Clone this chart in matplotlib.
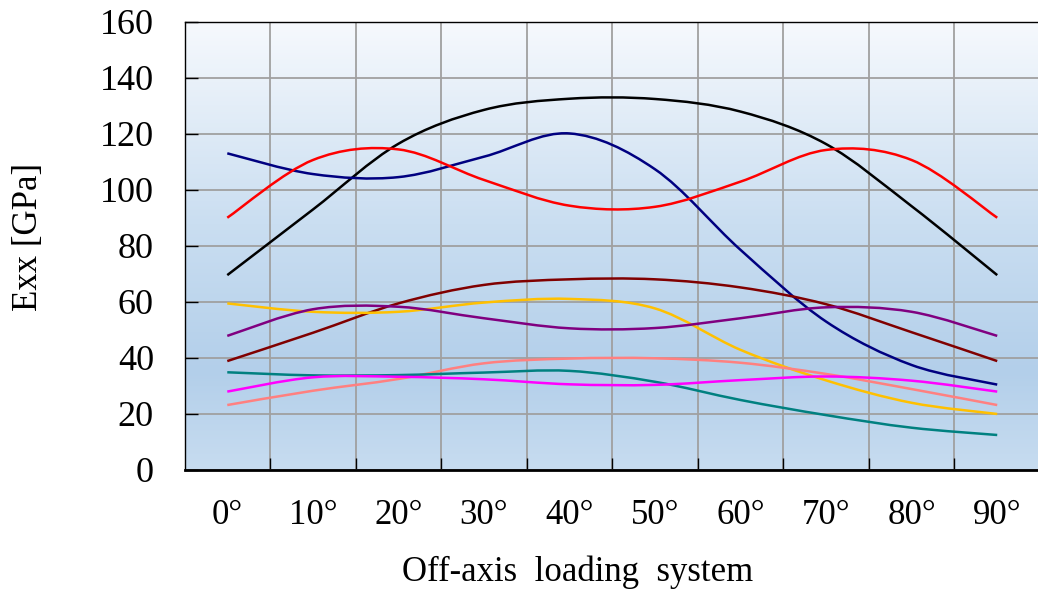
import numpy as np
import matplotlib.pyplot as plt
from matplotlib.path import Path
from matplotlib.patches import PathPatch
from matplotlib.colors import LinearSegmentedColormap

# categories on the x axis
angles = ['0°', '10°', '20°', '30°', '40°', '50°', '60°', '70°', '80°', '90°']

# Exx values [GPa], one list per curve
black_vals = [69.6, 93.0, 116.5, 128.6, 132.6, 132.5, 128.0, 116.4, 94.2, 69.6]
navy_vals = [113.1, 105.7, 104.6, 111.9, 120.2, 107.4, 78.6, 53.0, 37.5, 30.5]
red_vals = [90.1, 110.7, 114.5, 103.6, 94.4, 94.0, 103.0, 114.3, 110.7, 90.1]
maroon_vals = [38.9, 49.0, 59.5, 66.1, 68.1, 68.1, 65.2, 59.2, 49.2, 38.9]
orange_vals = [59.5, 56.5, 56.5, 59.8, 61.1, 57.7, 42.9, 32.0, 24.0, 20.0]
purple_vals = [47.9, 57.4, 58.3, 54.2, 50.6, 50.7, 54.2, 58.1, 56.5, 47.9]
salmon_vals = [23.2, 28.3, 32.5, 38.1, 39.8, 39.9, 38.3, 34.3, 28.9, 23.2]
teal_vals = [34.9, 33.8, 33.9, 34.8, 35.4, 31.5, 25.0, 19.6, 15.1, 12.5]
magenta_vals = [28.0, 33.1, 33.3, 32.4, 30.6, 30.4, 32.1, 33.4, 31.9, 28.0]

y_ticks = [0, 20, 40, 60, 80, 100, 120, 140, 160]


# smoothed line like a spreadsheet chart: cubic bezier through each point
def smooth_path(xs, ys):
    pts = np.column_stack([xs, ys]).astype(float)
    padded = np.vstack([pts[0], pts, pts[-1]])
    verts = [pts[0]]
    codes = [Path.MOVETO]
    for i in range(len(pts) - 1):
        p0, p1, p2, p3 = padded[i], padded[i + 1], padded[i + 2], padded[i + 3]
        c1 = p1 + (p2 - p0) / 6.0
        c2 = p2 - (p3 - p1) / 6.0
        verts += [c1, c2, p2]
        codes += [Path.CURVE4] * 3
    return Path(verts, codes)


def main():
    plt.rcParams['font.family'] = ['Liberation Serif', 'DejaVu Serif']

    fig = plt.figure(figsize=(10.38, 5.90), dpi=100)
    ax = fig.add_axes([184.5 / 1038, 1 - 470 / 590, (1040 - 184.5) / 1038, 448 / 590])

    # background gradient of the plot area
    grad = LinearSegmentedColormap.from_list(
        'bg', [(0.0, '#c7dcf0'), (0.22, '#b3cfea'), (0.55, '#cadef1'), (1.0, '#f6f9fd')])
    ax.imshow(np.linspace(0, 1, 256).reshape(-1, 1), cmap=grad, aspect='auto',
              extent=[0, 1, 0, 1], transform=ax.transAxes, origin='lower', zorder=0)

    x = np.arange(len(angles))
    series = [
        (black_vals, '#000000'),
        (navy_vals, '#000080'),
        (red_vals, '#ff0000'),
        (maroon_vals, '#800000'),
        (orange_vals, '#ffc000'),
        (purple_vals, '#800080'),
        (salmon_vals, '#ff8080'),
        (teal_vals, '#008080'),
        (magenta_vals, '#ff00ff'),
    ]
    for vals, col in series:
        patch = PathPatch(smooth_path(x, vals), fill=False, edgecolor=col,
                          lw=1.8, zorder=3, capstyle='butt')
        ax.add_patch(patch)

    ax.set_xlim(-0.5, len(angles) - 0.5)
    ax.set_ylim(0, 160)

    ax.set_xticks(x)
    ax.set_xticklabels(angles)
    ax.set_xticks(np.arange(0.5, len(angles) - 1, 1.0), minor=True)
    ax.set_yticks(y_ticks)

    ax.tick_params(axis='x', which='major', length=0, pad=21, labelsize=25)
    ax.tick_params(axis='x', which='minor', direction='in', length=9, width=1, color='black')
    ax.tick_params(axis='y', which='major', direction='in', length=9, width=1,
                   pad=22, labelsize=26)

    ax.grid(True, axis='x', which='minor', color='#a0a0a0', lw=1.3, zorder=1)
    ax.grid(True, axis='y', which='major', color='#a0a0a0', lw=1.3, zorder=1)
    ax.set_axisbelow(True)

    for side in ['left', 'top', 'right']:
        ax.spines[side].set_linewidth(1.0)
    ax.spines['bottom'].set_linewidth(2.0)

    fig.text(578 / 1038, 1 - 572 / 590, 'Off-axis  loading  system', ha='center',
             va='center', fontsize=25)
    fig.text(28 / 1038, 1 - 237 / 590, 'Exx [GPa]', ha='center', va='center',
             rotation=90, fontsize=25)

    plt.savefig('out.png', dpi=100)


if __name__ == '__main__':
    main()
